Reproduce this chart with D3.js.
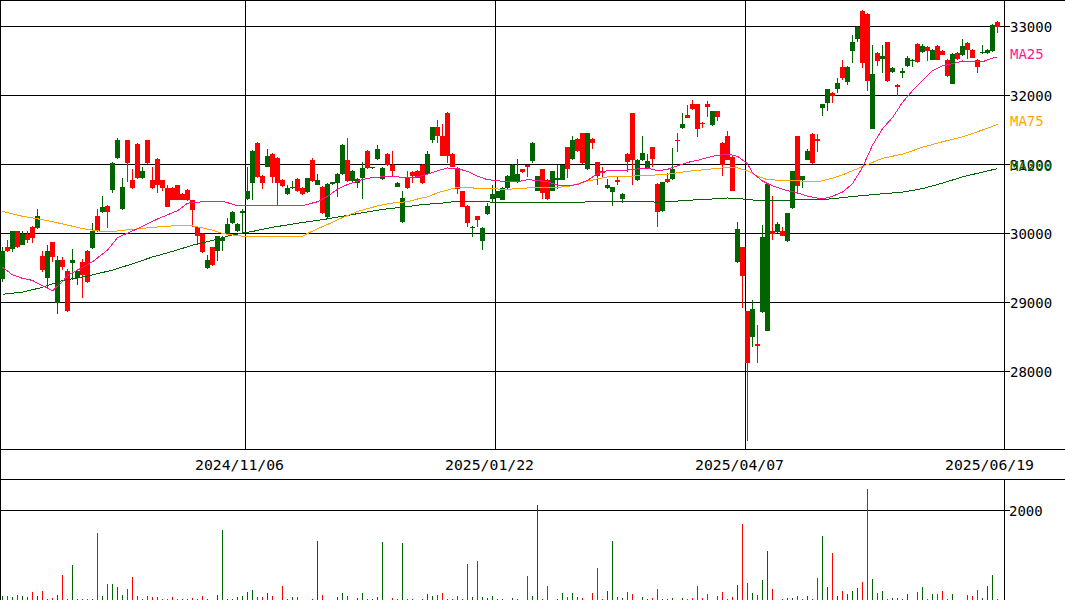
<!DOCTYPE html>
<html><head><meta charset="utf-8">
<script src="https://cdn.jsdelivr.net/npm/d3@7"></script>
<style>body{margin:0;background:#fff}svg{display:block}</style>
</head><body><svg id="c" width="1065" height="600"></svg>
<script>
const openP=[29340,29800,29770,30030,29840,30000,30100,30080,29680,29350,
29870,29000,29620,29460,29570,29350,29590,29750,29790,30260,
30310,30400,30630,31090,30350,31350,30770,31290,30800,31350,
30780,31080,30770,30660,30660,30700,30570,30630,30480,30100,
30000,29500,29800,29750,29890,30000,30150,30030,30300,30500,
30730,31310,30840,30970,31150,31100,30780,30570,30660,30790,
30660,30600,31070,30710,30680,30240,30720,30730,30860,31060,
30760,30730,30800,31200,30950,31080,30790,31150,30990,30680,
30160,30800,30890,30910,31000,30860,31350,31540,31410,31750,
31150,30950,30610,30400,30080,30250,29890,30280,30500,30520,
30490,30660,30760,30740,30930,30990,31050,30620,30930,30780,
30620,30780,30780,31250,31080,31370,31450,30930,31370,31030,
30900,30660,30600,30780,30500,31150,31740,30770,31060,30950,
31250,30720,30320,30790,30790,31350,31530,31720,31870,31870,
31600,31870,31570,31770,31310,31410,31110,29580,29800,28870,
28500,28400,28860,28590,30030,30020,30040,29890,30370,31410,
30770,31070,31440,31370,31820,31890,32040,32090,32420,32200,
32640,32820,33230,33180,31520,32620,32530,32770,32340,32150,
32330,32430,32510,32750,32630,32710,32520,32720,32650,32510,
32170,32620,32580,32760,32660,32520,32610,32610,32640,33070];
const highP=[29800,29900,30040,30040,30040,30040,30110,30350,29740,29830,
29880,29680,29660,29490,29780,29460,29630,29760,30150,30360,
30540,30410,31030,31390,30800,31360,30940,31310,30960,31360,
30960,31090,30780,30700,30670,30710,30580,30640,30490,30110,
30010,29690,29810,29970,29970,30220,30320,30150,30360,30960,
31210,31320,30850,31230,31160,31110,30790,30700,30760,30800,
30670,30810,31090,30860,30690,30730,30750,30870,31290,31380,
30920,30800,31030,31210,30970,31280,30960,31160,31200,30740,
30610,30900,30900,30920,31010,31190,31550,31640,31590,31760,
31160,30960,30620,30410,30105,30260,30090,30440,30710,30620,
30670,30850,31010,31080,30940,31000,31320,30840,30940,30790,
30910,30990,31000,31260,31410,31380,31460,31460,31380,31040,
30960,30790,30680,30820,30590,31160,31750,31080,31420,31150,
31260,30730,30750,30870,31240,31450,31740,31860,31930,31880,
31620,31920,31780,31780,31320,31480,31120,30170,29810,28880,
29040,28670,30120,30730,30540,30160,30100,30300,30910,31420,
30840,31230,31450,31440,31880,32100,32050,32260,32520,32430,
32880,33010,33240,33190,32730,32630,32730,32780,32410,32160,
32400,32570,32530,32760,32750,32720,32670,32730,32660,32530,
32610,32630,32820,32770,32670,32530,32730,32670,33030,33080];
const lowP=[29290,29730,29730,29790,29830,29860,29860,30070,29440,29200,
29580,28840,29470,28860,29330,29260,29060,29280,29780,30020,
30290,30080,30580,31080,30340,30740,30650,30790,30790,31010,
30650,30580,30620,30380,30480,30480,30480,30470,30100,29840,
29720,29490,29530,29600,29740,29990,30140,30020,30000,30490,
30490,30810,30650,30960,30730,30400,30680,30560,30650,30600,
30560,30590,30750,30700,30280,30230,30700,30530,30850,30750,
30750,30660,30500,30940,30940,31070,30780,30980,30840,30670,
30150,30650,30730,30800,30720,30850,31310,31310,31120,31020,
30960,30570,30380,30090,29950,30100,29760,30270,30450,30510,
30480,30650,30750,30730,30880,30820,31020,30610,30500,30490,
30610,30650,30770,30810,31070,31180,31010,30920,31220,30710,
30810,30650,30400,30710,30440,30890,30710,30760,31050,30940,
30960,30100,30310,30730,30780,31180,31520,31670,31790,31400,
31530,31690,31560,31630,30840,31060,30610,29570,28920,27000,
28360,28120,28850,28580,29900,30010,29960,29880,30360,30570,
30660,31060,31010,31180,31710,31770,31890,32030,32220,32150,
32470,32770,32400,32070,31510,32430,32320,32200,32330,32000,
32250,32420,32410,32470,32620,32500,32510,32510,32580,32270,
32160,32520,32570,32530,32540,32320,32600,32600,32630,32900];
const closeP=[29750,29740,30030,29800,30000,29900,29940,30260,29470,29740,
29660,29610,29520,28870,29620,29450,29400,29290,30030,30030,
30390,30310,31020,31350,30670,31020,30660,30800,30910,31020,
30660,30700,30660,30390,30490,30490,30490,30480,30340,29970,
29730,29620,29550,29960,29940,30140,30310,30140,30320,30610,
31200,30820,30730,31120,30820,30730,30690,30660,30680,30610,
30570,30800,30760,30770,30290,30720,30740,30860,31280,30760,
30910,30790,30950,30950,30960,31230,30950,30990,30910,30730,
30510,30660,30840,30810,30730,31150,31540,31410,31130,31130,
30970,30650,30390,30150,30100,30190,30080,30400,30570,30610,
30660,30840,31000,30860,30890,30960,31310,30830,30580,30500,
30900,30810,30990,30930,31350,31190,31020,31450,31310,30840,
30870,30700,30670,30740,30570,31040,31070,31070,31170,31050,
31080,30310,30740,30740,30940,31340,31590,31680,31800,31520,
31590,31830,31770,31690,31000,31070,30620,30060,29390,28130,
28900,28370,29950,30720,30000,30140,29970,30290,30900,30690,
30830,31190,31020,31340,31870,32090,31990,32180,32260,32420,
32770,33000,32470,32210,32310,32500,32570,32210,32400,32130,
32350,32550,32520,32480,32720,32640,32660,32520,32590,32280,
32600,32530,32720,32660,32550,32410,32630,32660,33020,32990];
const volume=[83,83,60,106,83,60,174,83,196,23,
45,106,559,23,785,15,15,15,30,1495,
83,362,362,287,121,242,513,83,15,83,
60,60,30,15,60,15,15,15,38,15,
83,15,10,106,1555,15,15,60,83,174,
219,60,60,151,83,10,310,15,60,60,
10,10,15,1329,106,10,10,60,151,83,
10,38,151,15,15,60,1306,10,38,15,
1283,15,15,10,15,128,83,106,151,15,
15,83,15,808,60,876,60,38,83,15,
15,10,38,15,10,536,83,2122,15,310,
10,15,151,60,151,60,38,10,151,717,
15,196,1329,60,38,174,128,10,60,15,
38,242,15,15,38,10,38,15,38,310,
38,128,10,83,174,15,60,332,1691,378,
151,106,445,1102,242,10,15,38,38,83,
15,83,15,491,1419,287,1057,83,196,128,
196,264,400,2484,468,151,196,15,38,38,
15,128,10,174,287,15,128,128,196,15,
128,10,10,106,83,219,38,310,559,15];

const ma25Idx=[0,2,4,6,8,10,12,13,16,18,21,23,27,31,35,37,40,44,47,52,56,60,63,65,67,69,71,73,77,81,83,85,87,89,91,93,95,97,101,103,105,107,109,111,113,115,117,119,121,125,129,131,133,135,137,139,142,145,147,149,150,152,154,157,159,161,164,166,168,170,172,174,176,178,180,182,184,186,188,190,192,194,196,198,199];
const ma25=[29510,29400,29350,29320,29240,29170,29300,29390,29510,29590,29760,29940,30070,30210,30330,30440,30460,30470,30400,30400,30400,30405,30460,30540,30640,30710,30760,30800,30830,30810,30820,30860,30910,30950,30940,30900,30830,30780,30750,30750,30780,30770,30750,30700,30690,30710,30770,30870,30910,30920,30950,30910,30930,30980,31030,31060,31120,31150,31120,31010,30880,30760,30690,30620,30590,30540,30500,30540,30600,30720,30960,31280,31520,31680,31900,32070,32220,32360,32430,32460,32500,32490,32490,32540,32560];
const ma75Idx=[0,4,8,12,16,20,22,26,30,34,38,40,42,44,46,48,52,56,60,61,63,65,67,69,71,73,75,77,79,81,83,85,87,89,91,94,97,101,105,109,113,115,117,119,121,125,129,133,137,141,144,147,149,151,153,156,160,163,166,168,171,173,176,180,184,188,192,196,199];
const ma75=[30320,30250,30200,30140,30070,30030,30030,30060,30090,30110,30110,30080,30050,30000,29980,29960,29950,29960,29960,30000,30070,30130,30200,30260,30320,30360,30400,30430,30450,30460,30500,30530,30590,30630,30670,30660,30650,30640,30660,30660,30680,30720,30760,30790,30820,30830,30840,30860,30900,30930,30950,30950,30910,30830,30780,30770,30760,30750,30800,30850,30940,31000,31090,31150,31250,31330,31400,31500,31580];
const ma200Idx=[0,4,8,12,16,18,22,26,30,34,38,42,46,50,54,60,64,68,72,76,80,84,88,90,96,100,106,112,118,126,132,138,142,145,148,151,156,160,164,168,172,176,180,184,188,192,196,199];
const ma200=[29120,29150,29220,29320,29370,29400,29470,29560,29660,29740,29830,29900,29980,30030,30090,30160,30200,30250,30300,30350,30380,30420,30440,30460,30460,30450,30450,30445,30460,30460,30455,30485,30500,30515,30500,30480,30480,30490,30490,30520,30550,30575,30600,30650,30730,30820,30890,30940];

const tickIdx=[49,99,149,199];
const tickLabels=["2024/11/06","2025/01/22","2025/04/07","2025/06/19"];
const priceTicks=[28000,29000,30000,31000,32000,33000];
const volTicks=[2000];

const UP="#006400", DOWN="#ff0000";
const svg=d3.select("#c");
const plotR=1004.5, mainB=449.5, volT=479.5;
const x=d3.scaleLinear().domain([0,1]).range([2.5,7.5]);
const y=d3.scaleLinear().domain([28000,33000]).range([371.5,26.5]);
const yv=d3.scaleLinear().domain([0,2000]).range([600,510.5]);
const font='"DejaVu Sans Mono","Liberation Mono",monospace';
const n=closeP.length;
const idx=d3.range(n);

const g=svg.append("g").attr("shape-rendering","crispEdges");
g.selectAll(".pg").data(priceTicks).join("line")
 .attr("x1",0).attr("x2",plotR+5).attr("y1",d=>Math.round(y(d)-0.5)+0.5).attr("y2",d=>Math.round(y(d)-0.5)+0.5)
 .attr("stroke","#000");
g.selectAll(".vg").data(tickIdx.filter(i=>x(i)<plotR-10)).join("line")
 .attr("x1",i=>x(i)-2).attr("x2",i=>x(i)-2).attr("y1",0).attr("y2",mainB).attr("stroke","#000");
g.selectAll(".vgl").data(volTicks).join("line")
 .attr("x1",0).attr("x2",plotR+5).attr("y1",d=>yv(d)).attr("y2",d=>yv(d)).attr("stroke","#000");

const fr=[[0,0.5,1065,0.5],[0,mainB,1065,mainB],[0,volT,1065,volT],[0.5,0,0.5,600],[plotR,0,plotR,mainB],[plotR,volT,plotR,600]];
g.selectAll(".fr").data(fr).join("line")
 .attr("x1",d=>d[0]).attr("y1",d=>d[1]).attr("x2",d=>d[2]).attr("y2",d=>d[3]).attr("stroke","#000");

const col=i=>closeP[i]>=openP[i]?UP:DOWN;
g.selectAll(".wk").data(idx).join("line")
 .attr("x1",i=>x(i)).attr("x2",i=>x(i)).attr("y1",i=>y(highP[i])).attr("y2",i=>y(lowP[i]))
 .attr("stroke",col);
g.selectAll(".bd").data(idx).join("rect")
 .attr("x",i=>x(i)-2.5).attr("width",5)
 .attr("y",i=>Math.round(y(Math.max(openP[i],closeP[i]))))
 .attr("height",i=>Math.max(1,Math.round(y(Math.min(openP[i],closeP[i])))-Math.round(y(Math.max(openP[i],closeP[i])))))
 .attr("fill",col);
g.selectAll(".vb").data(idx).join("line")
 .attr("x1",i=>x(i)).attr("x2",i=>x(i)).attr("y1",yv(0)).attr("y2",i=>yv(volume[i]))
 .attr("stroke",col);

const mas=[[ma200Idx,ma200,"#006400","MA200"],[ma75Idx,ma75,"#ffa500","MA75"],[ma25Idx,ma25,"#ff1493","MA25"]];
mas.forEach(([ix,vals,c])=>{
  svg.append("path").datum(ix.map((d,k)=>[d,vals[k]]))
   .attr("d",d3.line().x(d=>x(d[0])).y(d=>y(d[1])))
   .attr("fill","none").attr("stroke",c).attr("stroke-width",1).attr("shape-rendering","crispEdges");
});

svg.selectAll(".pl").data(priceTicks).join("text")
 .attr("x",1010).attr("y",d=>y(d)).attr("dominant-baseline","central")
 .attr("font-family",font).attr("font-size",14).attr("fill","#000").text(d=>d);
svg.selectAll(".vl").data(volTicks).join("text")
 .attr("x",1009).attr("y",d=>yv(d)).attr("dominant-baseline","central")
 .attr("font-family",font).attr("font-size",14).attr("fill","#000").text(d=>d);
mas.forEach(([ix,vals,c,name])=>{
  svg.append("text").attr("x",1010).attr("y",y(vals[vals.length-1])-3)
   .attr("dominant-baseline","central").attr("font-family",font).attr("font-size",14)
   .attr("fill",c).text(name);
});
svg.selectAll(".dl").data(tickIdx).join("text")
 .attr("x",i=>x(i)-8).attr("y",465).attr("text-anchor","middle").attr("dominant-baseline","central")
 .attr("font-family",font).attr("font-size",14).attr("textLength",89).attr("lengthAdjust","spacingAndGlyphs")
 .attr("fill","#000").text((d,k)=>tickLabels[k]);
</script></body></html>
